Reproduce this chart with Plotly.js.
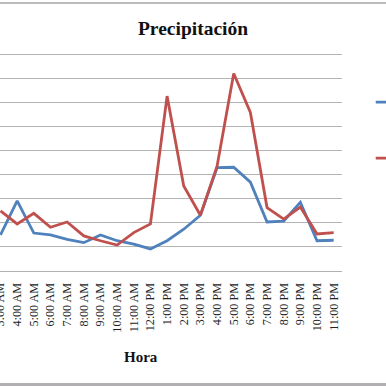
<!DOCTYPE html>
<html>
<head>
<meta charset="utf-8">
<script src="https://cdn.plot.ly/plotly-3.0.1.min.js"></script>
<style>
html,body{margin:0;padding:0;width:386px;height:386px;overflow:hidden;background:#fff;}
#chart{position:absolute;left:0;top:0;width:386px;height:386px;}
#bt{position:absolute;left:0;top:2px;width:386px;height:2px;background:#bcbcbc;}
#bb{position:absolute;left:0;top:383px;width:386px;height:3px;background:#b2afb2;}
</style>
</head>
<body>
<div id="chart"></div>
<div id="bt"></div>
<div id="bb"></div>
<script>
const horas = ["3:00 AM","4:00 AM","5:00 AM","6:00 AM","7:00 AM","8:00 AM","9:00 AM","10:00 AM","11:00 AM","12:00 PM","1:00 PM","2:00 PM","3:00 PM","4:00 PM","5:00 PM","6:00 PM","7:00 PM","8:00 PM","9:00 PM","10:00 PM","11:00 PM"];
const serieAzul = [0.75,1.46,0.79,0.75,0.66,0.59,0.75,0.63,0.56,0.46,0.63,0.87,1.16,2.15,2.16,1.85,1.02,1.04,1.43,0.63,0.64];
const serieRoja = [1.25,0.98,1.20,0.91,1.02,0.73,0.63,0.54,0.80,0.98,3.64,1.77,1.16,2.18,4.11,3.30,1.32,1.08,1.33,0.77,0.80];
const nombres = ["Estación 1","Estación 2"];

const serif = "Liberation Serif, DejaVu Serif, serif";
const data = [
  {x: horas, y: serieAzul, type: "scatter", mode: "lines", name: nombres[0], legendgroup: "a",
   line: {color: "#4F81BD", width: 2.8}},
  {x: horas, y: serieRoja, type: "scatter", mode: "lines", name: nombres[1], legendgroup: "b",
   line: {color: "#C0504D", width: 2.8}}
];
const layout = {
  width: 386, height: 386,
  margin: {l: 0, r: 44, t: 50, b: 115, autoexpand: false},
  paper_bgcolor: "#fff", plot_bgcolor: "#fff",
  title: {text: "<b>Precipitación</b>", x: 193/386, xref: "container", xanchor: "center",
          y: 1 - 28/386, yref: "container", yanchor: "middle",
          font: {family: serif, size: 19.5, color: "#111"}},
  xaxis: {type: "category", range: [-0.03, 20.5], tickangle: -90, showgrid: false,
          showline: true, linecolor: "#b0b0b0", linewidth: 1, ticks: "", ticklabelstandoff: 6,
          tickfont: {family: serif, size: 12.2, color: "#222"}, fixedrange: true},
  yaxis: {range: [0, 4.6], tickvals: [0.5,1,1.5,2,2.5,3,3.5,4,4.5], showgrid: true, gridcolor: "#b4b4b4", gridwidth: 1,
          showticklabels: false, zeroline: false, ticks: "", fixedrange: true},
  showlegend: true,
  legend: {x: 1.084, xanchor: "left", y: 0.83, yanchor: "top", traceorder: "grouped",
           tracegroupgap: 37, font: {family: serif, size: 11, color: "#222"}, bgcolor: "rgba(0,0,0,0)"},
  annotations: [{text: "<b>Hora</b>", xref: "paper", yref: "paper", x: 141/342, y: -(357-271)/221,
                 xanchor: "center", yanchor: "middle", showarrow: false,
                 font: {family: serif, size: 15, color: "#111"}}]
};
Plotly.newPlot("chart", data, layout, {displayModeBar: false, staticPlot: true});
</script>
</body>
</html>
